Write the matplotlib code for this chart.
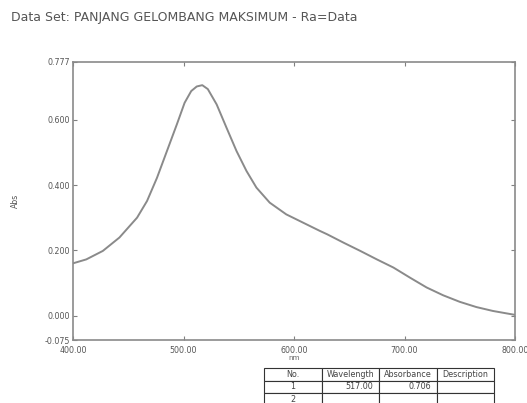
import matplotlib
matplotlib.use("Agg")
import matplotlib.pyplot as plt

plt.rcParams['font.family'] = ['DejaVu Sans']

# Data
wavelength = [400, 412, 427, 442, 458, 467, 476, 485, 494, 501, 507, 512,
              517, 522, 530, 539, 548, 557, 566, 578, 593, 608, 623, 630,
              645, 660, 675, 690, 705, 720, 735, 750, 765, 780, 800]
absorbance = [0.160, 0.172, 0.198, 0.239, 0.300, 0.351, 0.422, 0.504, 0.586,
              0.652, 0.688, 0.702, 0.706, 0.694, 0.647, 0.575, 0.504, 0.443,
              0.392, 0.346, 0.310, 0.285, 0.260, 0.249, 0.223, 0.198, 0.172,
              0.147, 0.116, 0.086, 0.062, 0.042, 0.026, 0.014, 0.002]
x_ticks = [400, 500, 600, 700, 800]
y_ticks = [-0.075, 0.0, 0.2, 0.4, 0.6, 0.777]
title = "Data Set: PANJANG GELOMBANG MAKSIMUM - Ra=Data"
table_cols = ["No.", "Wavelength", "Absorbance", "Description"]
table_rows = [["1", "517.00", "0.706", ""], ["2", "", "", ""]]

W, H = 527, 403
fig = plt.figure(figsize=(W / 100, H / 100), dpi=100)
fig.patch.set_facecolor('white')

ax = fig.add_axes([73 / W, 1 - 340 / H, (515 - 73) / W, (340 - 62) / H])
ax.plot(wavelength, absorbance, color='#8a8a8a', lw=1.4)
ax.set_xlim(400, 800)
ax.set_ylim(-0.075, 0.777)
ax.set_xticks(x_ticks)
ax.set_xticklabels([f"{v:.2f}" for v in x_ticks])
ax.set_yticks(y_ticks)
ax.set_yticklabels([f"{v:.3f}" for v in y_ticks])
ax.tick_params(direction='in', length=3, width=0.8, colors='#808080',
               labelcolor='#555555', labelsize=5.7, top=True, right=True)
ax.tick_params(axis='x', pad=4)
ax.tick_params(axis='y', pad=2)
for s in ax.spines.values():
    s.set_color('#8a8a8a')
    s.set_linewidth(1.2)
ax.set_xlabel("nm", fontsize=5.2, color='#666666', labelpad=0)
ax.set_ylabel("Abs", fontsize=5.6, color='#555555', labelpad=18)

fig.text(11 / W, 1 - 17 / H, title, fontsize=9, color='#555555',
         va='center', ha='left')

tax = fig.add_axes([264.3 / W, -0.006, 230 / W, 0.092])
tax.axis('off')
tbl = tax.table(cellText=table_rows, colLabels=table_cols, bbox=[0, 0, 1, 1],
                cellLoc='center')
tbl.auto_set_font_size(False)
tbl.set_fontsize(5.8)
for (r, c), cell in tbl.get_celld().items():
    cell.set_edgecolor('#333333')
    cell.set_linewidth(0.8)
    cell.get_text().set_color('#444444')
    if r > 0 and c in (1, 2):
        cell.get_text().set_ha('right')
        cell._loc = 'right'

fig.savefig("out.png", dpi=100, facecolor='white')
